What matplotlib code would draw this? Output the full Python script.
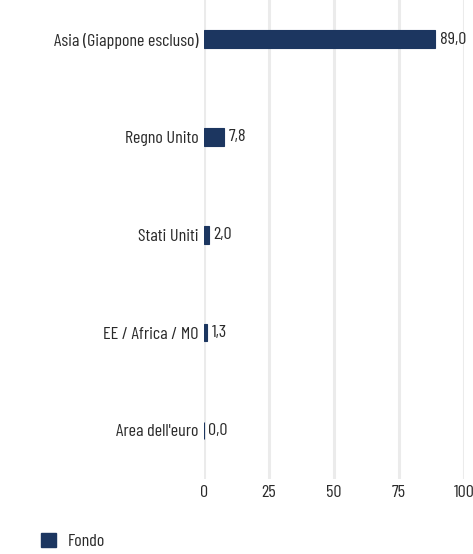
import matplotlib
matplotlib.use('Agg')
import matplotlib.pyplot as plt
from matplotlib.patches import Patch

categories = ['Asia (Giappone escluso)', 'Regno Unito', 'Stati Uniti', 'EE / Africa / MO', "Area dell'euro"]
fondo = [89.0, 7.8, 2.0, 1.3, 0.0]
xticks = [0, 25, 50, 75, 100]

plt.rcParams['font.family'] = ['Barlow Condensed', 'Roboto Condensed', 'DejaVu Sans']
plt.rcParams['font.weight'] = 'normal'
plt.rcParams['font.size'] = 13

color = '#1c3660'
text_color = '#2a2a2a'

fig = plt.figure(figsize=(4.73, 5.54), dpi=100)
ax = fig.add_axes([0.431, 0.135, 0.55, 0.865])

pos = list(range(len(categories)))
ax.barh(pos, fondo, height=0.18, color=color, edgecolor=color, linewidth=0.8, zorder=3)
for y, v in zip(pos, fondo):
    ax.text(v + 1.6, y, f'{v:.1f}'.replace('.', ','), va='center', ha='left',
            color=text_color, fontsize=13)

ax.set_xlim(0, 100)
ax.set_ylim(4.5, -0.4)
ax.set_xticks(xticks)
ax.set_yticks(pos)
ax.set_yticklabels(categories, color=text_color)
ax.tick_params(axis='both', length=0, colors=text_color, labelsize=13)
ax.tick_params(axis='y', pad=4)
ax.tick_params(axis='x', pad=4)
ax.grid(axis='x', color='#ebebeb', linewidth=2.2, zorder=0)
for s in ax.spines.values():
    s.set_visible(False)

fig.legend(handles=[Patch(color=color, label='Fondo')], loc='lower left',
           bbox_to_anchor=(0.087, 0.009), frameon=False, borderpad=0, borderaxespad=0,
           handlelength=0.85, handleheight=0.85, handletextpad=0.6, fontsize=13,
           labelcolor=text_color)

fig.savefig('out.png', dpi=100)
